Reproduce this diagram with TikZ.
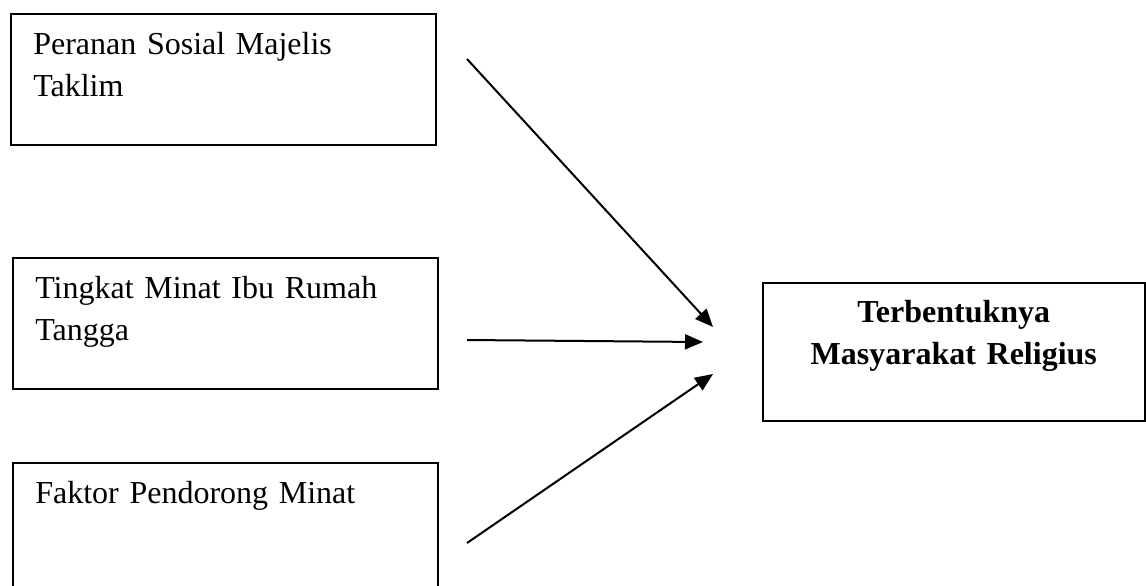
\documentclass[tikz,border=0pt]{standalone}
\usepackage{fontspec}
\setmainfont{Liberation Serif}
\usetikzlibrary{arrows.meta}

\begin{document}
\begin{tikzpicture}[x=0.5pt, y=-0.5pt,
    box/.style = {draw, line width=0.8pt, anchor=north west,
                minimum width=212.5pt, minimum height=65.5pt,
                text width=190pt, align=left,
                inner xsep=11pt, inner ysep=0pt,
                text height=20.5pt, text depth=45pt,
                font=\fontsize{16}{21}\selectfont},
    goal/.style = {draw, line width=0.8pt, anchor=north west,
                minimum width=191pt, minimum height=69pt,
                text width=169pt, align=center,
                inner xsep=11pt, inner ysep=0pt,
                text height=20pt, text depth=49pt,
                font=\fontsize{16}{21}\selectfont\bfseries},
    arr/.style = {line width=1pt, -{Triangle[length=9pt,width=7.5pt]}}
                    ]
    \clip (0,0) rectangle (1146,585); % page size
    \def\sx{467}
    \node[box] at (10,13) (peranan) {Peranan Sosial Majelis\\Taklim};
    \node[box] at (12,257) (minat) {Tingkat Minat Ibu Rumah\\Tangga};
    \node[box] at (12,462) (faktor) {Faktor Pendorong Minat};
    \node[goal] at (762,282) (religius) {Terbentuknya\\Masyarakat Religius};
    % free ends of the arrows
    \coordinate (s1) at (\sx,59);
    \coordinate (s2) at (\sx,340);
    \coordinate (s3) at (\sx,543);
    \coordinate (t1) at (713,327);
    \coordinate (t2) at (703,342);
    \coordinate (t3) at (713,374);
    \draw[arr] (s1) -- (t1);
    \draw[arr] (s2) -- (t2);
    \draw[arr] (s3) -- (t3);
\end{tikzpicture}
\end{document}
